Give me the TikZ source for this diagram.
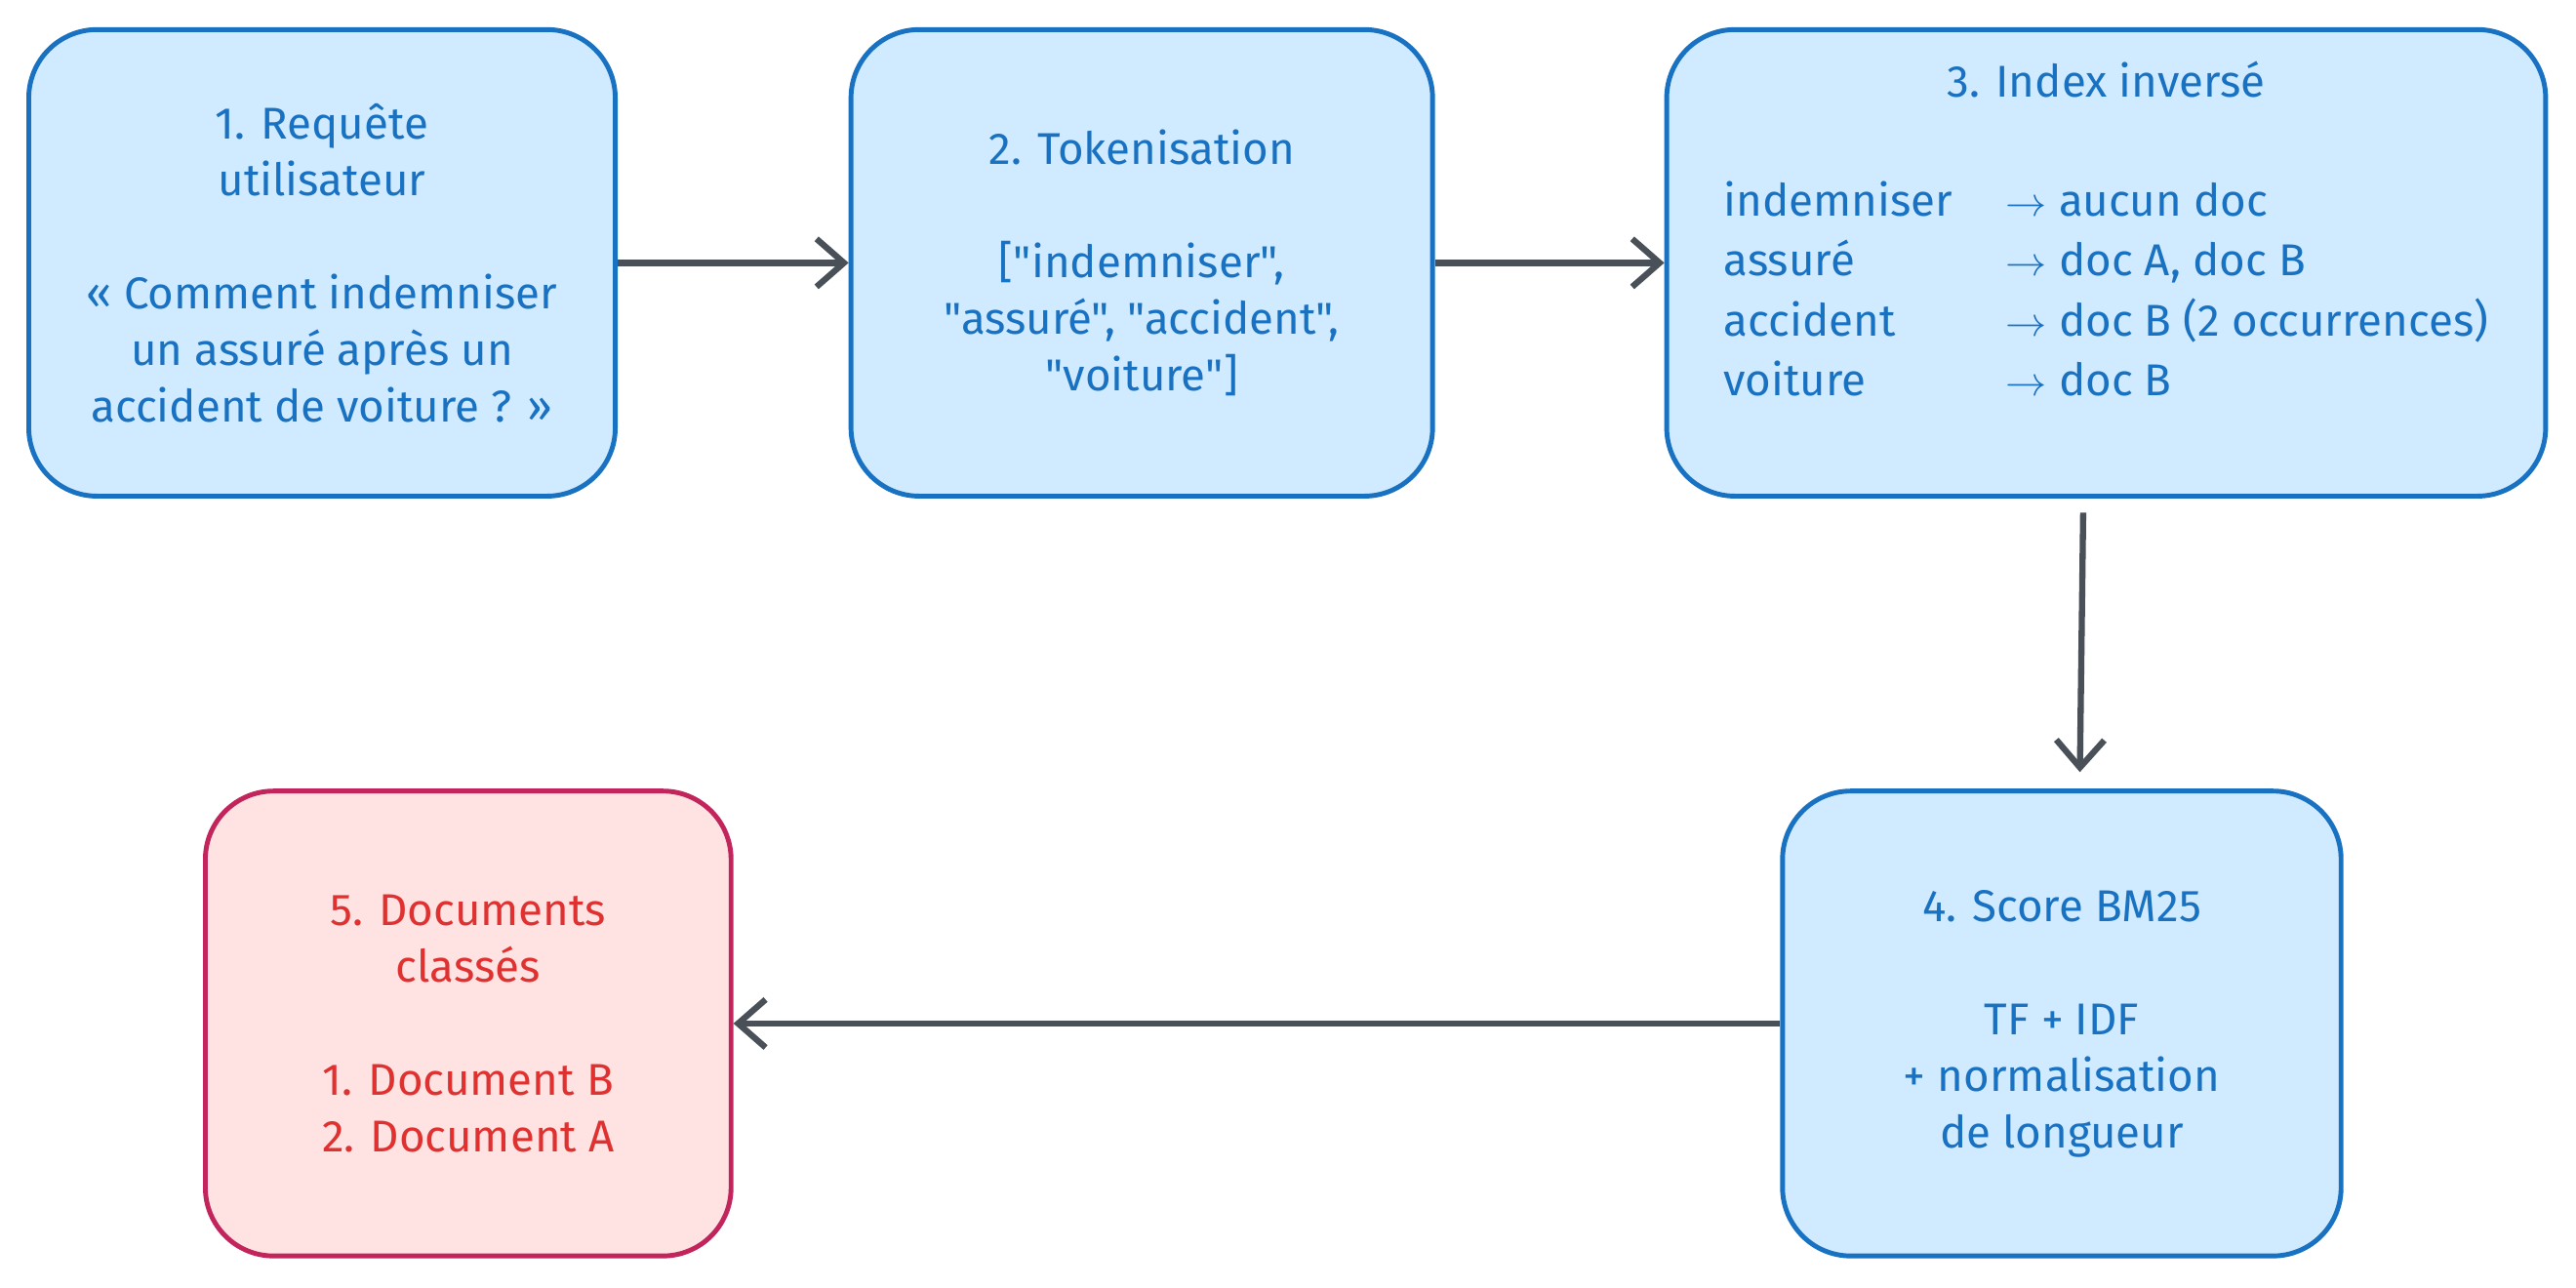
\documentclass[tikz,border=0pt]{standalone}
\usepackage{fontspec}
\setmainfont{Fira Sans}[Ligatures=TeXOff]
\usetikzlibrary{arrows.meta}
\definecolor{bluefill}{HTML}{D0EBFF}
\definecolor{bluedraw}{HTML}{1971C2}
\definecolor{redfill}{HTML}{FFE3E3}
\definecolor{reddraw}{HTML}{C2255C}
\definecolor{redtext}{HTML}{E03131}
\definecolor{arrowgray}{HTML}{495057}
\tikzset{
  stage/.style={draw=bluedraw, fill=bluefill, text=bluedraw, line width=1.4pt,
    rounded corners=0.7cm, align=center, font=\fontsize{13}{16.5}\selectfont},
  result/.style={stage, draw=reddraw, fill=redfill, text=redtext},
  flow/.style={draw=arrowgray, line width=1.8pt, -{Straight Barb[length=8pt,width=14pt]}}
}
\begin{document}
\begin{tikzpicture}[x=0.01684cm, y=-0.01684cm]

    \useasboundingbox (0,0) rectangle (1568,784);

    \node[stage, minimum width=357*0.01684cm, minimum height=284*0.01684cm] (query) at (196,160)
      {1. Requête\\utilisateur\\[16.5pt]« Comment indemniser\\un assuré après un\\accident de voiture ? »};

    \node[stage, minimum width=354*0.01684cm, minimum height=284*0.01684cm] (token) at (695,160)
      {2. Tokenisation\\[16.5pt]["indemniser",\\"assuré", "accident",\\"voiture"]};

    \node[stage, minimum width=535*0.01684cm, minimum height=284*0.01684cm] (index) at (1282,160)
      {3. Index inversé\\[22pt]
       \begin{tabular}{@{}l@{\hspace{1.2em}}l@{}}
       indemniser & $\rightarrow$ aucun doc\\[1pt]
       assuré & $\rightarrow$ doc A, doc B\\[1pt]
       accident & $\rightarrow$ doc B (2 occurrences)\\[1pt]
       voiture & $\rightarrow$ doc B
       \end{tabular}\\[14pt]};

    \node[stage, minimum width=340*0.01684cm, minimum height=283*0.01684cm] (score) at (1255,623)
      {4. Score BM25\\[16.5pt]TF + IDF\\+ normalisation\\de longueur};

    \node[result, minimum width=320*0.01684cm, minimum height=283*0.01684cm] (ranked) at (285,623)
      {5. Documents\\classés\\[16.5pt]1. Document B\\2. Document A};

    \coordinate (indexout) at (1268,312);
    \coordinate (scorein) at (1266,470);

    \draw[flow] (query) -- (token);
    \draw[flow] (token) -- (index);
    \draw[flow] (indexout) -- (scorein);
    \draw[flow] (score) -- (ranked);

\end{tikzpicture}
\end{document}
